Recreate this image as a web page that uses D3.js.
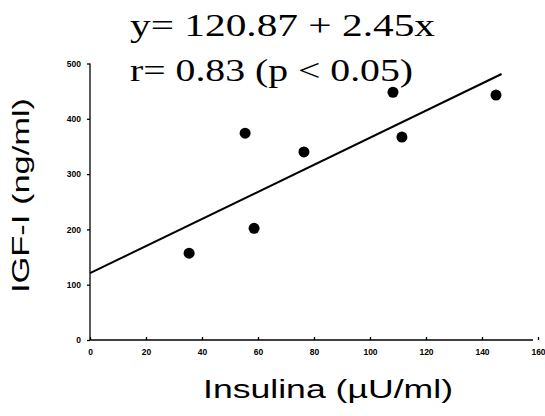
<!DOCTYPE html>
<html>
<head>
<meta charset="utf-8">
<script src="https://cdn.jsdelivr.net/npm/d3@7"></script>
<style>
  body { margin: 0; background: #fff; }
  svg { display: block; }
</style>
</head>
<body>
<div id="chart"></div>
<script>
// valores
const insulina = [35.4, 55.4, 58.6, 76.4, 108.2, 111.4, 145];
const igf = [157, 374, 202, 340, 448, 367, 443];
const xTicks = [0, 20, 40, 60, 80, 100, 120, 140, 160];
const yTicks = [0, 100, 200, 300, 400, 500];
const intercepto = 120.87;
const pendiente = 2.45;
const rectaX = [0, 147];

const width = 545;
const height = 416;

const svg =
    d3.select("#chart")
      .append("svg")
      .attr("width", width)
      .attr("height", height);

const x =
    d3.scaleLinear()
      .domain([0, 160])
      .range([90, 538]);

const y =
    d3.scaleLinear()
      .domain([0, 500])
      .range([340, 63.5]);

// eje x
const gx = svg.append("g")
   .attr("transform", "translate(0,340)")
   .call(
       d3.axisBottom(x)
         .tickValues(xTicks)
         .tickSize(-3)
         .tickPadding(9)
   );
gx.select(".domain").attr("d", "M90,0H533");

// eje y
const gy = svg.append("g")
   .attr("transform", "translate(90,0)")
   .call(
       d3.axisLeft(y)
         .tickValues(yTicks)
         .tickSize(3)
         .tickPadding(6)
   );
gy.select(".domain").attr("d", "M0,340V63.5");

svg.selectAll(".tick text")
   .attr("font-family", "Liberation Sans, Arial, sans-serif")
   .attr("font-weight", "bold")
   .attr("font-size", 8.5)
   .attr("fill", "#000");

svg.selectAll(".domain, .tick line")
   .attr("stroke", "#000")
   .attr("stroke-width", 1.3);

// recta de regresion
svg.append("line")
   .attr("x1", x(rectaX[0]))
   .attr("y1", y(intercepto + pendiente * rectaX[0]))
   .attr("x2", x(rectaX[1]))
   .attr("y2", y(intercepto + pendiente * rectaX[1]))
   .attr("stroke", "#000")
   .attr("stroke-width", 2);

// puntos
svg.selectAll("circle")
   .data(insulina)
   .enter()
   .append("circle")
   .attr("cx", d => x(d))
   .attr("cy", (d, i) => y(igf[i]))
   .attr("r", 5.5)
   .attr("fill", "#000");

// ecuacion
svg.append("text")
   .attr("x", 130)
   .attr("y", 36)
   .attr("font-family", "Liberation Serif, Times New Roman, serif")
   .attr("font-size", 32)
   .attr("textLength", 305)
   .attr("lengthAdjust", "spacingAndGlyphs")
   .text("y= 120.87 + 2.45x");

svg.append("text")
   .attr("x", 130)
   .attr("y", 81)
   .attr("font-family", "Liberation Serif, Times New Roman, serif")
   .attr("font-size", 32)
   .attr("textLength", 283)
   .attr("lengthAdjust", "spacingAndGlyphs")
   .text("r= 0.83 (p < 0.05)");

// titulos de ejes
svg.append("text")
   .attr("x", 203)
   .attr("y", 398)
   .attr("font-family", "Liberation Sans, Arial, sans-serif")
   .attr("font-size", 26)
   .attr("textLength", 250)
   .attr("lengthAdjust", "spacingAndGlyphs")
   .text("Insulina (\u00b5U/ml)");

svg.append("text")
   .attr("transform", "translate(29,293) rotate(-90)")
   .attr("font-family", "Liberation Sans, Arial, sans-serif")
   .attr("font-size", 24)
   .attr("textLength", 195)
   .attr("lengthAdjust", "spacingAndGlyphs")
   .text("IGF-I (ng/ml)");
</script>
</body>
</html>
